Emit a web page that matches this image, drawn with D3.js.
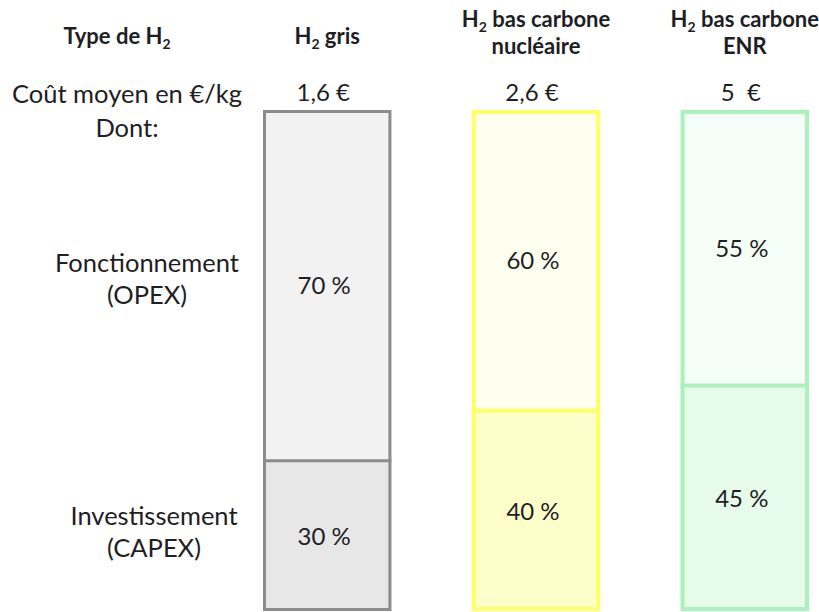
<!DOCTYPE html>
<html>
<head>
<meta charset="utf-8">
<script src="https://cdn.jsdelivr.net/npm/d3@7"></script>
<style>
  html, body { margin: 0; padding: 0; background: #ffffff; }
  text { font-family: Lato, "Open Sans", sans-serif; fill: #1e1e24; }
</style>
</head>
<body>
<svg id="chart" width="819" height="612"></svg>
<script>
// ---- data ----
const types = ["H₂ gris", "H₂ bas carbone nucléaire", "H₂ bas carbone ENR"];
const headerLines = [["gris"], ["bas carbone", "nucléaire"], ["bas carbone", "ENR"]];
const costs = ["1,6 €", "2,6 €", "5  €"];
const opex = [70, 60, 55];
const capex = [30, 40, 45];
const rowTitle = "Type de H";
const costTitle = "Coût moyen en €/kg";
const dontLabel = "Dont:";
const opexLabel = ["Fonctionnement", "(OPEX)"];
const capexLabel = ["Investissement", "(CAPEX)"];

// ---- styles ----
const strokeCols = ["#8c8c8c", "#ffff66", "#aaf2bc"];
const strokeW = [3, 4, 4];
const fillTop = ["#f2f2f2", "#fffff0", "#f5fef7"];
const fillBot = ["#e7e7e7", "#fefecb", "#e6fbea"];

const svg = d3.select("#chart");

const x = d3.scaleBand().domain(types).range([263, 809]).paddingInner(0.385).paddingOuter(0);
const y = d3.scaleLinear().domain([0, 100]).range([611, 110]);

// ---- boxes ----
const segs = [];
types.forEach((t, i) => {
  segs.push({t, i, y0: 0, y1: capex[i], fill: fillBot[i], v: capex[i]});
  segs.push({t, i, y0: capex[i], y1: capex[i] + opex[i], fill: fillTop[i], v: opex[i]});
});

// segment fills
svg.append("g").selectAll("rect").data(segs).join("rect")
  .attr("x", d => x(d.t))
  .attr("width", x.bandwidth())
  .attr("y", d => y(d.y1))
  .attr("height", d => y(d.y0) - y(d.y1))
  .attr("fill", d => d.fill);

// outer borders
svg.append("g").selectAll("rect").data(types).join("rect")
  .attr("x", (t, i) => x(t) + strokeW[i] / 2)
  .attr("width", (t, i) => x.bandwidth() - strokeW[i])
  .attr("y", (t, i) => y(opex[i] + capex[i]) + strokeW[i] / 2)
  .attr("height", (t, i) => y(0) - y(opex[i] + capex[i]) - strokeW[i])
  .attr("fill", "none")
  .attr("stroke", (t, i) => strokeCols[i])
  .attr("stroke-width", (t, i) => strokeW[i]);

// divider lines
svg.append("g").selectAll("line").data(types).join("line")
  .attr("x1", (t) => x(t))
  .attr("x2", (t) => x(t) + x.bandwidth())
  .attr("y1", (t, i) => y(capex[i]))
  .attr("y2", (t, i) => y(capex[i]))
  .attr("stroke", (t, i) => strokeCols[i])
  .attr("stroke-width", (t, i) => strokeW[i]);

// percentage labels
svg.append("g").selectAll("text").data(segs).join("text")
  .attr("x", d => x(d.t) + x.bandwidth() / 2 - 3)
  .attr("y", d => (y(d.y0) + y(d.y1)) / 2 + 9)
  .attr("text-anchor", "middle")
  .style("font-size", "24px")
  .text(d => d.v + " %");

// ---- headers ----
function h2(sel, rest) {
  sel.append("tspan").text("H");
  sel.append("tspan").attr("dy", 5).style("font-size", "14px").text("2");
  sel.append("tspan").attr("dy", -5).text(rest ? " " + rest : "");
}
const hdr = svg.append("g").style("font-weight", "bold").style("font-size", "22px");
const t0 = hdr.append("text").attr("x", 117).attr("y", 44).attr("text-anchor", "middle");
t0.append("tspan").text(rowTitle);
t0.append("tspan").attr("dy", 5).style("font-size", "14px").text("2");

types.forEach((t, i) => {
  const cx = x(t) + x.bandwidth() / 2;
  const lines = headerLines[i];
  if (lines.length === 1) {
    const tx = hdr.append("text").attr("x", cx).attr("y", 44).attr("text-anchor", "middle");
    h2(tx, lines[0]);
  } else {
    const tx = hdr.append("text").attr("x", cx).attr("y", 27).attr("text-anchor", "middle");
    h2(tx, lines[0]);
    hdr.append("text").attr("x", cx).attr("y", 54).attr("text-anchor", "middle").text(lines[1]);
  }
});

// ---- cost row ----
const lab = svg.append("g").style("font-size", "25.5px");
lab.append("text").attr("x", 12).attr("y", 103).text(costTitle);
lab.selectAll("text.cost").data(types).join("text").attr("class", "cost")
  .attr("x", t => x(t) + x.bandwidth() / 2 - 4)
  .attr("y", 101)
  .attr("text-anchor", "middle")
  .style("white-space", "pre")
  .style("font-size", "24px")
  .text((t, i) => costs[i]);

lab.append("text").attr("x", 127).attr("y", 137).attr("text-anchor", "middle").text(dontLabel);
lab.append("text").attr("x", 147).attr("y", 272).attr("text-anchor", "middle").text(opexLabel[0]);
lab.append("text").attr("x", 147).attr("y", 304).attr("text-anchor", "middle").text(opexLabel[1]);
lab.append("text").attr("x", 154).attr("y", 525).attr("text-anchor", "middle").text(capexLabel[0]);
lab.append("text").attr("x", 154).attr("y", 557).attr("text-anchor", "middle").text(capexLabel[1]);
</script>
</body>
</html>
